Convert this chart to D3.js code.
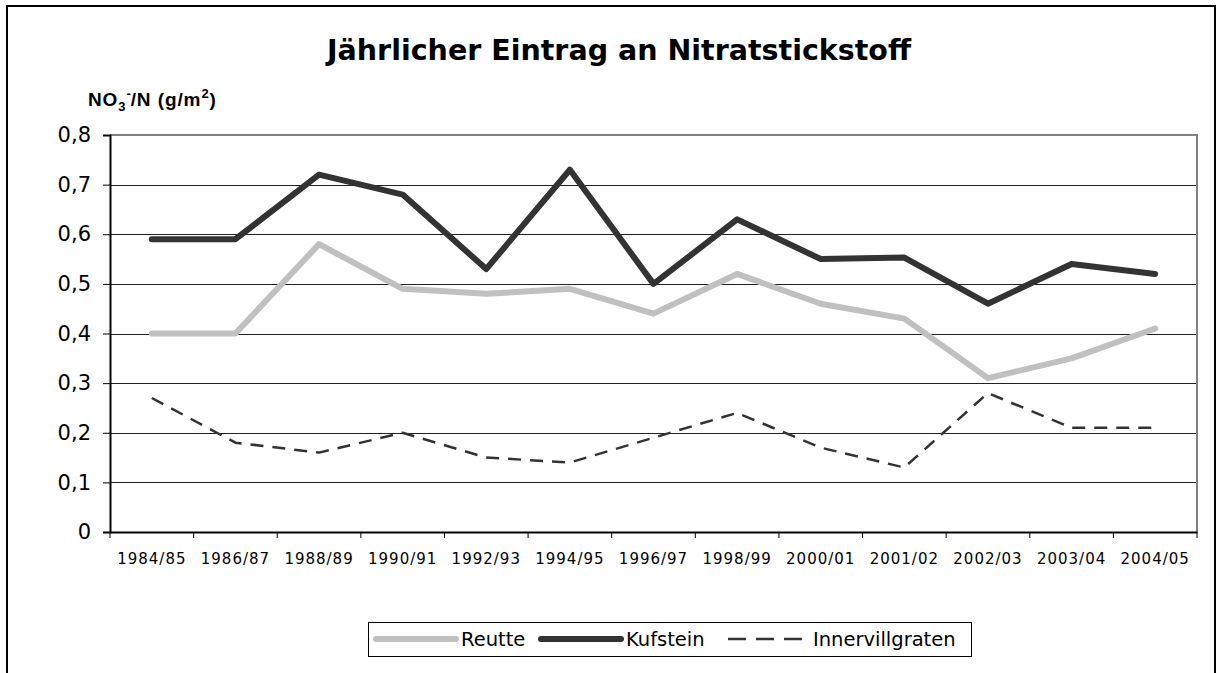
<!DOCTYPE html>
<html>
<head>
<meta charset="utf-8">
<script src="https://cdn.jsdelivr.net/npm/d3@7.9.0/dist/d3.min.js"></script>
<style>
  body { margin: 0; background: #fff; }
  svg { display: block; }
</style>
</head>
<body>
<svg id="chart" width="1219" height="673"></svg>
<script>
// data
const years = ['1984/85', '1986/87', '1988/89', '1990/91', '1992/93', '1994/95', '1996/97',
  '1998/99', '2000/01', '2001/02', '2002/03', '2003/04', '2004/05'];
const reutte = [0.40, 0.40, 0.58, 0.49, 0.48, 0.49, 0.44, 0.52, 0.46, 0.43, 0.31, 0.35, 0.41];
const kufstein = [0.59, 0.59, 0.72, 0.68, 0.53, 0.73, 0.50, 0.63, 0.55, 0.553, 0.46, 0.54, 0.52];
const innervillgraten = [0.27, 0.18, 0.16, 0.20, 0.15, 0.14, 0.19, 0.24, 0.17, 0.13, 0.28, 0.21, 0.21];
const yTicks = [0, 0.1, 0.2, 0.3, 0.4, 0.5, 0.6, 0.7, 0.8];

const series = [
  { name: 'Reutte', values: reutte, color: '#c0c0c0', width: 6, dash: null },
  { name: 'Kufstein', values: kufstein, color: '#333333', width: 6, dash: null },
  { name: 'Innervillgraten', values: innervillgraten, color: '#333333', width: 2.5, dash: '13,9' }
];

const svg = d3.select('#chart');
const plot = { left: 110, top: 135, right: 1197, bottom: 532 };

// outer frame
svg.append('rect')
  .attr('x', 7).attr('y', 6).attr('width', 1208).attr('height', 720)
  .attr('fill', 'none').attr('stroke', '#000').attr('stroke-width', 2);

svg.append('text')
  .attr('x', 619).attr('y', 60)
  .attr('text-anchor', 'middle')
  .style('font-family', '"DejaVu Sans", sans-serif')
  .style('font-weight', 'bold')
  .style('font-size', '28.5px')
  .text('Jährlicher Eintrag an Nitratstickstoff');

// y-axis title: NO3-/N (g/m2)
const yt = svg.append('text')
  .attr('x', 88).attr('y', 106)
  .style('font-family', '"Liberation Sans", Arial, sans-serif')
  .style('font-weight', 'bold')
  .style('font-size', '19px')
  .style('letter-spacing', '0.9px');
yt.append('tspan').text('NO');
yt.append('tspan').attr('dy', 5).style('font-size', '13px').text('3');
yt.append('tspan').attr('dy', -13).style('font-size', '13px').text('-');
yt.append('tspan').attr('dy', 8).attr('dx', -1).text('/N (g/m');
yt.append('tspan').attr('dy', -8).style('font-size', '13px').text('2');
yt.append('tspan').attr('dy', 8).text(')');

const x = d3.scaleBand().domain(years).range([plot.left, plot.right]);
const y = d3.scaleLinear().domain([0, 0.8]).range([plot.bottom, plot.top]);

// grid
svg.append('g')
  .selectAll('line')
  .data(yTicks.filter(d => d > 0 && d < 0.8))
  .join('line')
  .attr('x1', plot.left).attr('x2', plot.right)
  .attr('y1', d => Math.round(y(d)) + 0.5).attr('y2', d => Math.round(y(d)) + 0.5)
  .attr('stroke', '#222').attr('stroke-width', 1);

// top and right frame of plot area
svg.append('path')
  .attr('d', `M${plot.left},${plot.top}H${plot.right}V${plot.bottom}`)
  .attr('fill', 'none').attr('stroke', '#808080').attr('stroke-width', 2);

// y axis
const yAxis = svg.append('g')
  .attr('transform', `translate(${plot.left},0)`)
  .call(d3.axisLeft(y).tickValues(yTicks).tickSize(7).tickPadding(12)
    .tickFormat(d => d === 0 ? '0' : d3.format('.1f')(d).replace('.', ',')));
yAxis.select('.domain').attr('stroke', '#000').attr('stroke-width', 2);
yAxis.selectAll('.tick line').attr('stroke', '#000');
yAxis.selectAll('text')
  .attr('fill', '#000')
  .style('font-family', '"DejaVu Sans", sans-serif')
  .style('font-size', '21px');

// x axis with tick marks at band edges
const xAxis = svg.append('g')
  .attr('transform', `translate(0,${plot.bottom})`)
  .call(d3.axisBottom(x).tickSize(0).tickPadding(21));
xAxis.select('.domain').attr('stroke', '#000').attr('stroke-width', 2);
xAxis.selectAll('text')
  .attr('fill', '#000')
  .style('font-family', '"DejaVu Sans", sans-serif')
  .style('font-size', '15px')
  .style('letter-spacing', '1px');
xAxis.selectAll('.edge')
  .data(years.map(d => x(d)).concat([plot.right]))
  .join('line')
  .attr('class', 'edge')
  .attr('x1', d => d).attr('x2', d => d)
  .attr('y1', 0).attr('y2', 6)
  .attr('stroke', '#000');

// lines
const line = d3.line()
  .x((d, i) => x(years[i]) + x.bandwidth() / 2)
  .y(d => y(d));

svg.append('g')
  .selectAll('path')
  .data(series)
  .join('path')
  .attr('d', d => line(d.values))
  .attr('fill', 'none')
  .attr('stroke', d => d.color)
  .attr('stroke-width', d => d.width)
  .attr('stroke-linecap', d => d.dash ? 'butt' : 'round')
  .attr('stroke-linejoin', 'round')
  .attr('stroke-dasharray', d => d.dash);

// legend
const legend = svg.append('g');
legend.append('rect')
  .attr('x', 368.5).attr('y', 622.5).attr('width', 603).attr('height', 34)
  .attr('fill', '#fff').attr('stroke', '#000').attr('stroke-width', 1);

const legendX = [373, 538, 725];
series.forEach((s, i) => {
  legend.append('line')
    .attr('x1', legendX[i] + 3).attr('x2', legendX[i] + 83)
    .attr('y1', 639).attr('y2', 639)
    .attr('stroke', s.color)
    .attr('stroke-width', s.width)
    .attr('stroke-linecap', s.dash ? 'butt' : 'round')
    .attr('stroke-dasharray', s.dash ? '18,10' : null);
  legend.append('text')
    .attr('x', legendX[i] + 88).attr('y', 646)
    .style('font-family', '"DejaVu Sans", sans-serif')
    .style('font-size', '19.5px')
    .text(s.name);
});
</script>
</body>
</html>
